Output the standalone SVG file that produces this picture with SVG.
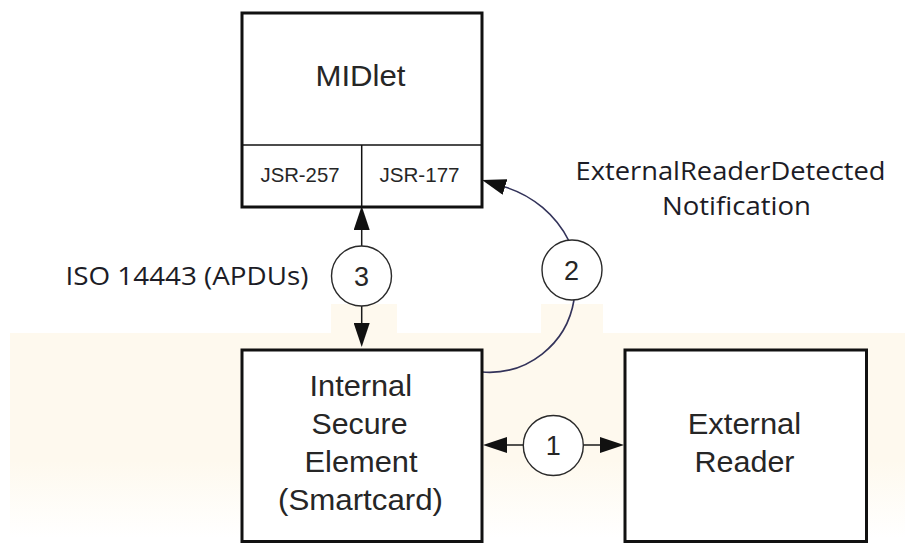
<svg xmlns="http://www.w3.org/2000/svg" width="905" height="543" viewBox="0 0 905 543">
  <style>
    .box { fill: #ffffff; stroke: #111111; stroke-width: 3; }
    .div { stroke: #111111; stroke-width: 1.5; fill: none; }
    .bub { fill: #ffffff; stroke: #2a2a2a; stroke-width: 1.4; }
    .lbl { font-family: "Liberation Sans", Arial, sans-serif; fill: #262626; }
    .big { font-size: 29px; }
    .small { font-size: 21px; }
    .num { font-size: 27px; text-anchor: middle; }
    .note { font-family: "Open Sans", "Noto Sans", sans-serif; font-size: 25px; fill: #1c1c26; }
    .wire { fill: none; stroke: #1a1a1a; stroke-width: 1.5; }
    .arc { fill: none; stroke: #33335a; stroke-width: 1.6; }
  </style>
  <defs>
    <marker id="head" markerUnits="userSpaceOnUse" markerWidth="24" markerHeight="16" refX="0" refY="8" orient="auto-start-reverse" viewBox="0 0 24 16">
      <path d="M0,0 L24,8 L0,16 Z" fill="#111111"/>
    </marker>
    <linearGradient id="band" x1="0" y1="0" x2="0" y2="1">
      <stop offset="0" stop-color="#fef9ee"/>
      <stop offset="0.62" stop-color="#fef9ee"/>
      <stop offset="1" stop-color="#ffffff"/>
    </linearGradient>
  </defs>

  <!-- page background with the pale band behind the lower row -->
  <rect x="0" y="0" width="905" height="543" fill="#ffffff"/>
  <rect x="10" y="333" width="895" height="205" fill="url(#band)"/>
  <rect x="331" y="304" width="66" height="30" fill="#fef9ee"/>
  <rect x="541" y="304" width="62" height="30" fill="#fef9ee"/>

  <!-- connectors -->
  <g id="connectors">
    <path class="wire" d="M361.7,230 L361.7,323" marker-start="url(#head)" marker-end="url(#head)"/>
    <path class="wire" d="M507,445 L600,445" marker-start="url(#head)" marker-end="url(#head)"/>
    <path class="arc" d="M569,241 A107,107 0 0 0 505,187" marker-end="url(#head)"/>
    <path class="arc" d="M574,300 A86,86 0 0 1 482,372"/>
  </g>

  <g id="midlet">
    <rect class="box" x="242" y="13" width="240" height="194"/>
    <line class="div" x1="242" y1="145" x2="482" y2="145"/>
    <line class="div" x1="361.7" y1="145" x2="361.7" y2="207"/>
    <text class="lbl big" x="315.5" y="86" textLength="90" lengthAdjust="spacingAndGlyphs">MIDlet</text>
    <text class="lbl small" x="260.5" y="182" textLength="79" lengthAdjust="spacingAndGlyphs">JSR-257</text>
    <text class="lbl small" x="379.5" y="182" textLength="80" lengthAdjust="spacingAndGlyphs">JSR-177</text>
  </g>

  <g id="secure-element">
    <rect class="box" x="242" y="350" width="240" height="191.5"/>
    <text class="lbl big" x="309.5" y="396" textLength="102.5" lengthAdjust="spacingAndGlyphs">Internal</text>
    <text class="lbl big" x="311.5" y="434" textLength="96" lengthAdjust="spacingAndGlyphs">Secure</text>
    <text class="lbl big" x="304.5" y="472" textLength="113" lengthAdjust="spacingAndGlyphs">Element</text>
    <text class="lbl big" x="278" y="510" textLength="165" lengthAdjust="spacingAndGlyphs">(Smartcard)</text>
  </g>

  <g id="external-reader">
    <rect class="box" x="625" y="350" width="241.5" height="191.5"/>
    <text class="lbl big" x="687.7" y="434" textLength="113.5" lengthAdjust="spacingAndGlyphs">External</text>
    <text class="lbl big" x="694.5" y="472" textLength="100" lengthAdjust="spacingAndGlyphs">Reader</text>
  </g>

  <g id="step-1">
    <circle class="bub" cx="553.3" cy="445.5" r="30"/>
    <text class="lbl num" x="553.3" y="454.5">1</text>
  </g>

  <g id="step-2">
    <circle class="bub" cx="572" cy="270" r="30"/>
    <text class="lbl num" x="571.5" y="279.5">2</text>
  </g>

  <g id="step-3">
    <circle class="bub" cx="361.5" cy="276" r="30"/>
    <text class="lbl num" x="361.5" y="285.5">3</text>
  </g>

  <g id="labels">
    <text class="note" x="65.5" y="285" textLength="243" lengthAdjust="spacingAndGlyphs">ISO 14443 (APDUs)</text>
    <text class="note" x="575.5" y="179.5" textLength="310" lengthAdjust="spacingAndGlyphs">ExternalReaderDetected</text>
    <text class="note" x="662" y="215" textLength="149" lengthAdjust="spacingAndGlyphs">Notification</text>
  </g>
</svg>
